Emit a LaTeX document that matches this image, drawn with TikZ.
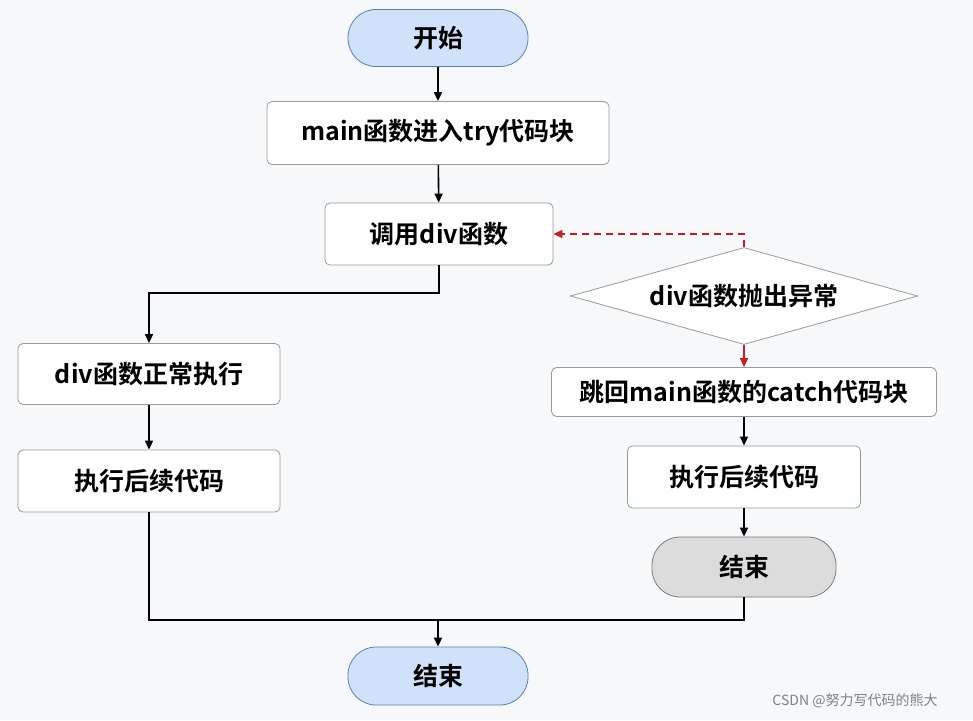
\documentclass[tikz,border=0pt]{standalone}
\usepackage{fontspec}
\setmainfont{Noto Sans CJK SC}[BoldFont={Noto Sans CJK SC Bold}]
\usetikzlibrary{shapes.geometric,arrows.meta}
\definecolor{bg}{HTML}{F7F8FA}
\definecolor{bluef}{HTML}{CFE2FA}
\definecolor{blued}{HTML}{5A7FB5}
\definecolor{grayf}{HTML}{DCDCDC}
\definecolor{boxd}{HTML}{9A9A9A}
\definecolor{redc}{HTML}{C81E1E}
\begin{document}
\begin{tikzpicture}[x=1pt,y=-1pt,
  every node/.style={font=\fontsize{25}{28}\selectfont\bfseries},
  box/.style={draw=boxd,fill=white,rounded corners=5pt,line width=0.8pt,inner sep=0pt},
  term/.style={draw=blued,fill=bluef,rounded corners=28pt,line width=0.8pt,inner sep=0pt,minimum width=180pt,minimum height=57pt},
  arr/.style={-{Triangle[length=9pt,width=8pt]},line width=1.6pt},
  ln/.style={line width=1.6pt}]
\fill[bg] (0,0) rectangle (973,720);
\useasboundingbox (0,0) rectangle (973,720);
\node[term] (start) at (438,38) {开始};
\node[box,minimum width=342pt,minimum height=63pt] (try) at (438,133) {main函数进入try代码块};
\node[box,minimum width=228pt,minimum height=62pt] (call) at (439,234) {调用div函数};
\node[draw=boxd,fill=white,line width=0.8pt,diamond,aspect=3.6,inner sep=0pt,minimum width=347pt,minimum height=97pt] (thr) at (744,296) {div函数抛出异常};
\node[box,minimum width=385pt,minimum height=49pt] (catch) at (744,392) {跳回main函数的catch代码块};
\node[box,minimum width=233pt,minimum height=62pt] (r2) at (744,477) {执行后续代码};
\node[draw=boxd!80!black,fill=grayf,rounded corners=28pt,line width=0.8pt,inner sep=0pt,minimum width=184pt,minimum height=60pt] (end2) at (744,567) {结束};
\node[box,minimum width=262pt,minimum height=61pt] (norm) at (149,374) {div函数正常执行};
\node[box,minimum width=262pt,minimum height=62pt] (l2) at (149,481) {执行后续代码};
\node[term,minimum height=58pt] (end) at (438,676) {结束};
\coordinate (j) at (438,620);
\draw[arr] (start) -- (try);
\draw[arr] (try) -- (call);
\draw[arr] (call.south) |- (149,293) -- (norm.north);
\draw[arr] (norm) -- (l2);
\draw[ln] (l2.south) |- (j);
\draw[ln] (end2.south) |- (j);
\draw[arr] (j) -- (end.north);
\draw[redc,line width=1.6pt,dash pattern=on 7pt off 5pt,-{Triangle[length=9pt,width=8pt]}] (thr.north) |- (call.east);
\draw[redc,line width=1.6pt,-{Triangle[length=9pt,width=8pt]}] (thr.south) -- (catch.north);
\draw[arr] (catch) -- (r2);
\draw[arr] (r2) -- (end2);
\node[font=\fontsize{14}{16}\selectfont,text=gray] (wm) at (855,701) {CSDN @努力写代码的熊大};
\end{tikzpicture}
\end{document}
